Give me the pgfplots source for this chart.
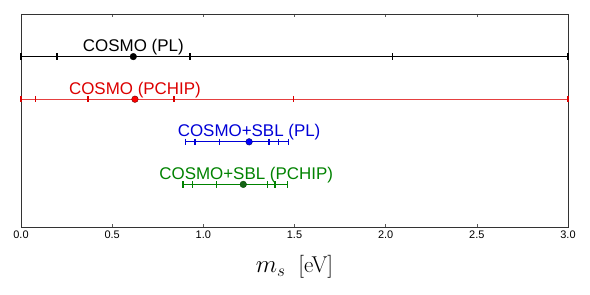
\documentclass[border=0pt]{standalone}
\usepackage{pgfplots}
\pgfplotsset{compat=1.18}
\usepackage{fontspec}
\setmainfont{Liberation Sans}
\newfontfamily\lmr{Latin Modern Roman}
\definecolor{cR}{RGB}{220,0,0}
\definecolor{cB}{RGB}{0,0,215}
\definecolor{cG}{RGB}{0,130,0}
\definecolor{cGd}{RGB}{20,100,20}
\begin{document}
\begin{tikzpicture}
\begin{axis}[name=ax,
  scale only axis, width=547bp, height=213bp,
  xmin=0, xmax=3, ymin=0, ymax=5,
  xtick={0,0.5,...,3}, ytick=\empty,
  xticklabel style={font=\fontsize{11}{12}\selectfont, /pgf/number format/fixed, /pgf/number format/fixed zerofill, /pgf/number format/precision=1},
  /pgf/number format/assume math mode=true,
  tick align=inside, major tick length=3bp,
  tick style={gray!70!black, line width=0.5pt},
  axis line style={gray!40!black, line width=0.8pt},
  xlabel={$m_s$\ \ {\lmr [eV]}},
  xlabel style={font=\fontsize{23}{26}\selectfont, yshift=-10bp},
  clip=false,
]
% COSMO (PL)
\addplot[black, line width=1.4pt, mark=|, mark size=3.2bp, mark options={line width=1.8pt}] coordinates {(0,4) (0.199,4) (0.927,4) (2.037,4) (3,4)};
\addplot[only marks, mark=*, mark size=3.3bp, black] coordinates {(0.616,4)};
% COSMO (PCHIP)
\addplot[cR!75, line width=1.4pt, mark=|, mark size=3.2bp, mark options={line width=1.8pt, cR}] coordinates {(0,3) (0.08,3) (0.369,3) (0.837,3) (1.494,3) (3,3)};
\addplot[only marks, mark=*, mark size=3.3bp, fill=red, draw=black!60!red] coordinates {(0.625,3)};
% COSMO+SBL (PL)
\addplot[cB, line width=1.3pt, mark=|, mark size=3.2bp, mark options={line width=1.6pt}] coordinates {(0.903,2) (0.955,2) (1.088,2) (1.359,2) (1.412,2) (1.468,2)};
\addplot[only marks, mark=*, mark size=3.3bp, fill=blue, draw=black!60!blue] coordinates {(1.251,2)};
% COSMO+SBL (PCHIP)
\addplot[cG, line width=1.3pt, mark=|, mark size=3.2bp, mark options={line width=1.6pt}] coordinates {(0.890,1) (0.940,1) (1.073,1) (1.351,1) (1.393,1) (1.461,1)};
\addplot[only marks, mark=*, mark size=3.3bp, fill=cGd, draw=black!70!green] coordinates {(1.219,1)};
\node[anchor=base, font=\fontsize{17}{20}\selectfont, black] at ([yshift=5bp]axis cs:0.616,4) {COSMO (PL)};
\node[anchor=base, font=\fontsize{17}{20}\selectfont, cR] at ([yshift=5bp]axis cs:0.625,3) {COSMO (PCHIP)};
\node[anchor=base, font=\fontsize{17}{20}\selectfont, cB] at ([yshift=5bp]axis cs:1.251,2) {COSMO+SBL (PL)};
\node[anchor=base, font=\fontsize{17}{20}\selectfont, cG] at ([yshift=5bp]axis cs:1.235,1) {COSMO+SBL (PCHIP)};
\end{axis}
\path ([xshift=-21bp,yshift=-68bp]ax.south west) rectangle ([xshift=22bp,yshift=14bp]ax.north east);
\end{tikzpicture}
\end{document}
